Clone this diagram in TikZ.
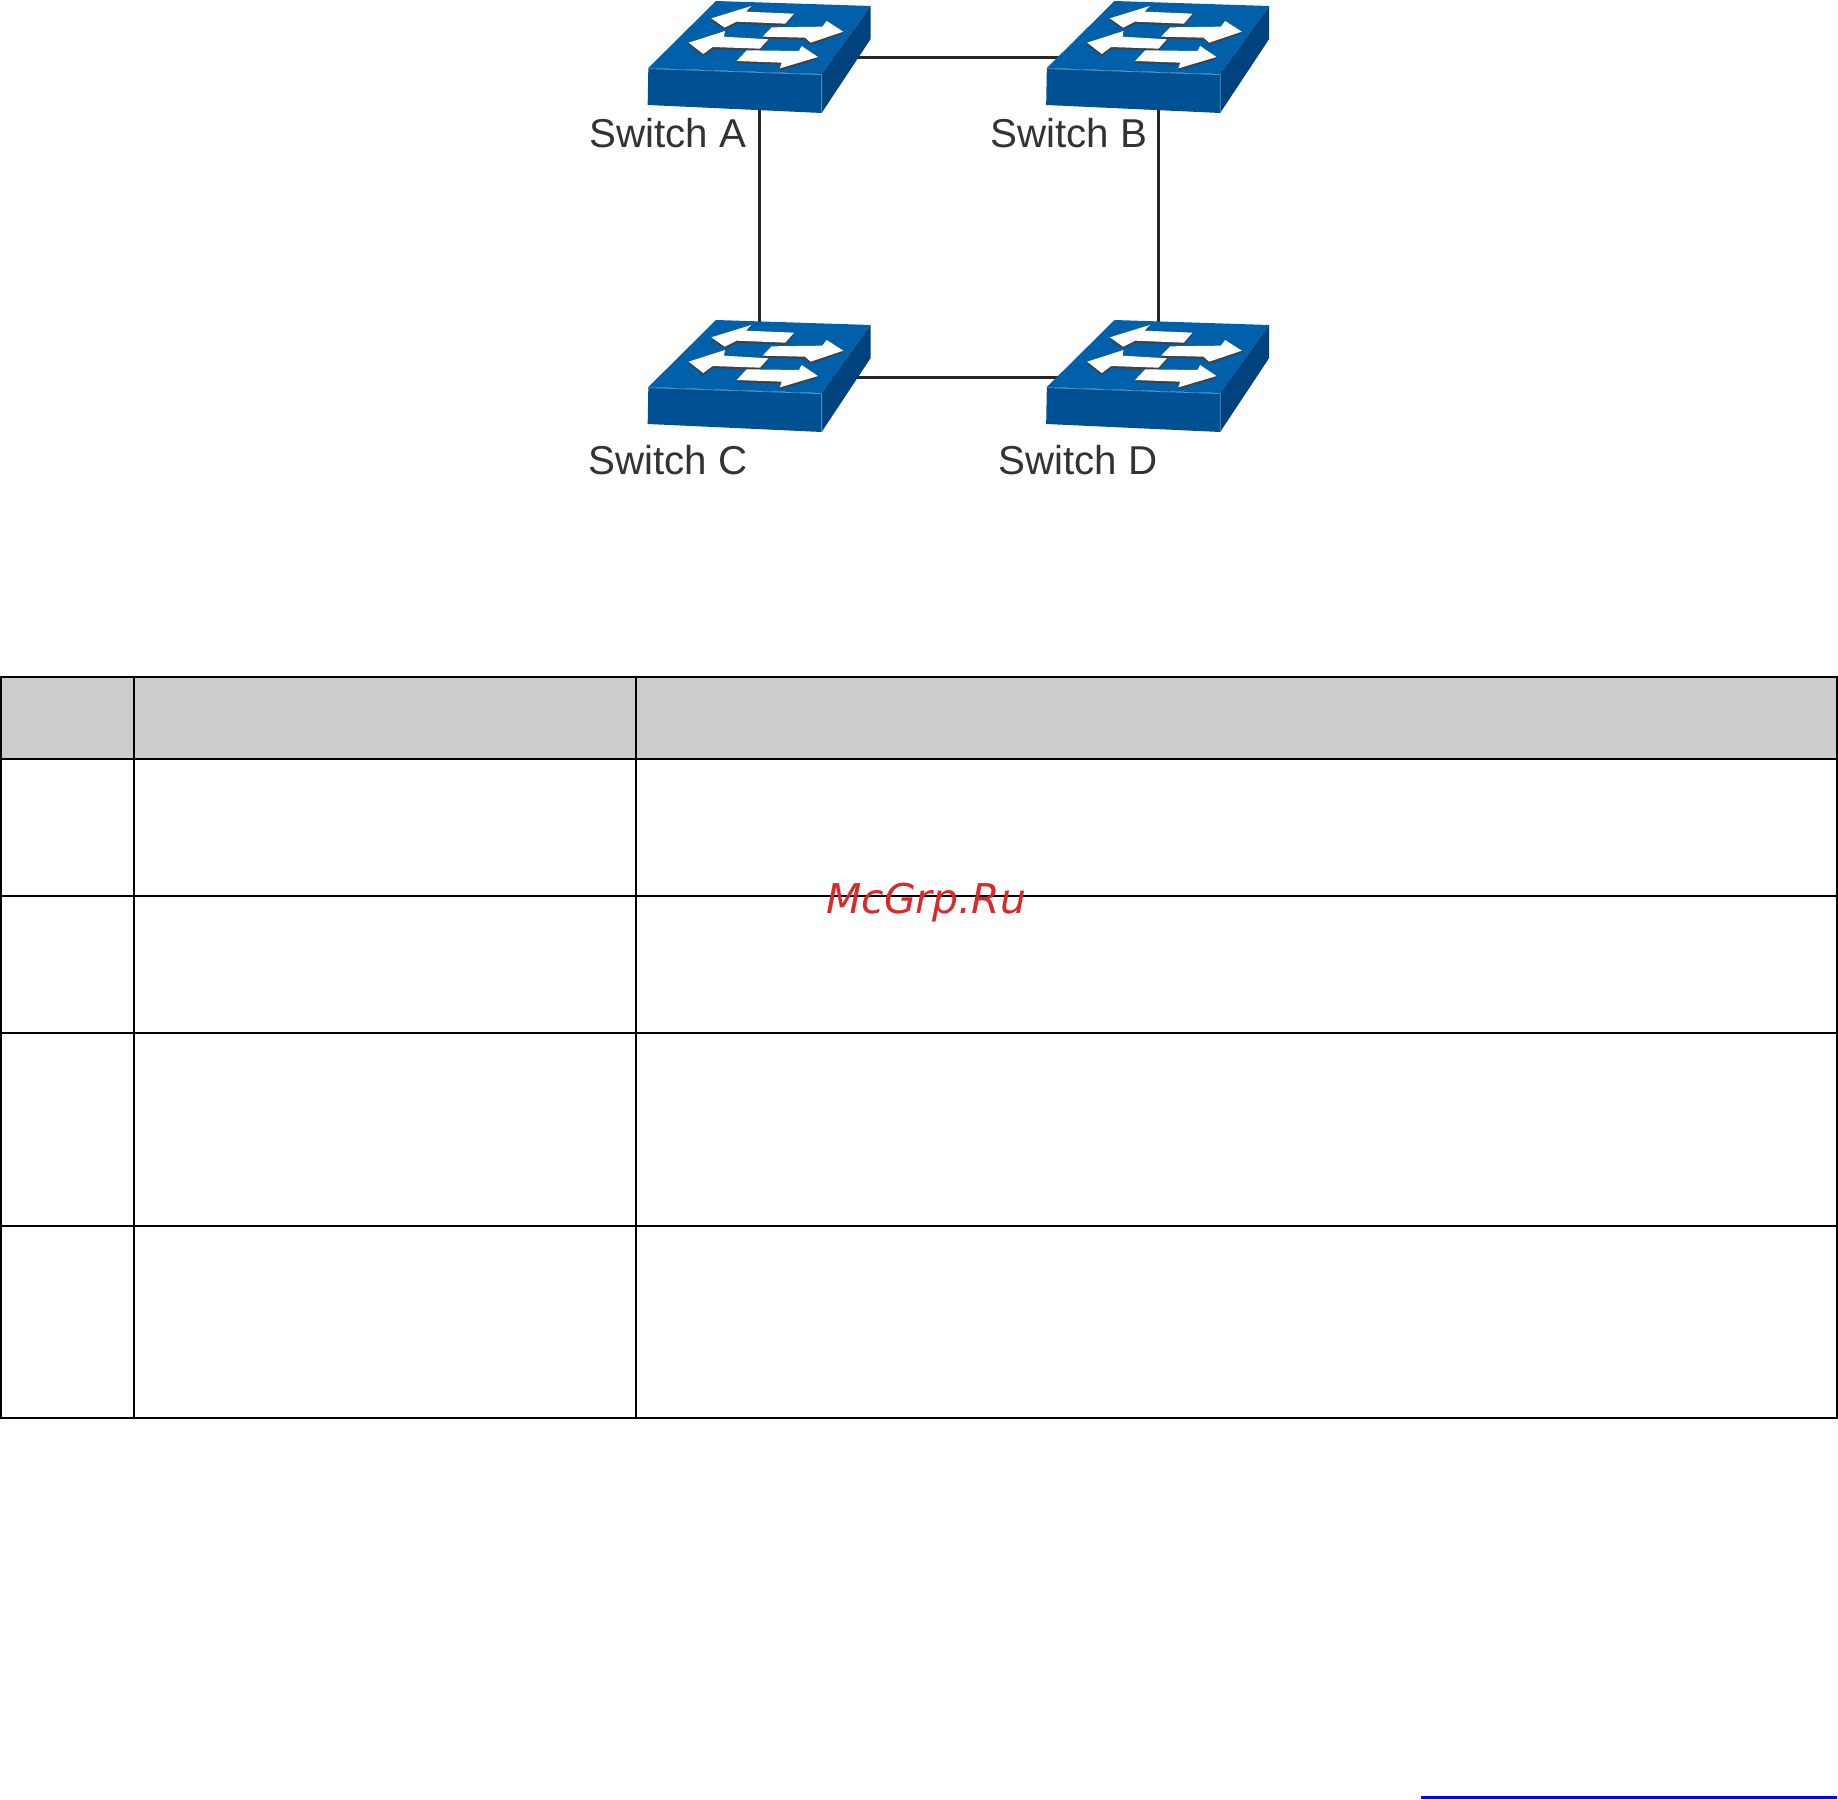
\documentclass[tikz,border=0pt]{standalone}
\usepackage{fontspec}
\setmainfont{Liberation Sans}
\newfontfamily\markFont{DejaVu Sans}
\definecolor{topFace}{RGB}{0,96,170}
\definecolor{frontFace}{RGB}{0,80,148}
\definecolor{sideFace}{RGB}{0,66,126}
\definecolor{labelColor}{RGB}{51,51,51}
\definecolor{headerColor}{RGB}{204,204,204}
\definecolor{markColor}{RGB}{220,40,40}
\tikzstyle{picturePixels} = [x = 1pt, y = -1pt]
\tikzstyle{linkLine} = [color=black!85, line width=3pt]
\tikzstyle{switchPoint} = [inner sep=0pt, minimum size=0pt]
\tikzstyle{switchLabel} = [color=labelColor, font=\fontsize{40.3}{40}\selectfont, anchor=base west, inner sep=0pt]
\tikzstyle{rowLine} = [color=black, line width=2.2pt]
\tikzstyle{columnLine} = [color=black, line width=2pt]
\tikzstyle{arrowShape} = [fill=white]
\tikzstyle{arrowShadow} = [fill=black!75]
\newcommand{\arrowPair}[1]{\fill [arrowShadow] [shift={(0,6)}] #1; \fill [arrowShape] #1;}
\newcommand{\switchIcon}[2]{
  \begin{scope}[shift={(#1,#2)}, scale=.3333]
    \fill [topFace] (205,204) -- (408,3) -- (872,18) -- (725,222) -- cycle;
    \fill [frontFace] (205,204) -- (725,222) -- (725,339) -- (203,315) -- cycle;
    \fill [sideFace] (725,222) -- (872,18) -- (872,117) -- (725,339) -- cycle;
    \draw [topFace!65!white, line width=.7pt] (207,206) -- (725,224) -- (725,335);
    \arrowPair{(394,55) -- (514,18) -- (498,35) -- (642,41) -- (616,71) -- (470,65) -- (434,83) -- cycle}
    \arrowPair{(790,95) -- (740,63) -- (727,80) -- (575,82) -- (548,110) -- (675,113) -- (692,128) -- cycle}
    \arrowPair{(326,128) -- (435,93) -- (432,110) -- (565,118) -- (540,146) -- (398,141) -- (370,162) -- cycle}
    \arrowPair{(714,171) -- (665,138) -- (657,153) -- (500,151) -- (470,183) -- (605,188) -- (600,205) -- cycle}
  \end{scope}
}
\begin{document}
\begin{tikzpicture}[picturePixels]
  \useasboundingbox (0,0) rectangle (1838,1799);

  \node [switchPoint] (switchA) at (759.5,57.5) {};
  \node [switchPoint] (switchB) at (1158.5,57.5) {};
  \node [switchPoint] (switchC) at (759.5,377) {};
  \node [switchPoint] (switchD) at (1158.5,377) {};
  \draw [linkLine] (switchA) -- (switchB);
  \draw [linkLine] (switchA) -- (switchC);
  \draw [linkLine] (switchB) -- (switchD);
  \draw [linkLine] (switchC) -- (switchD);

  \switchIcon{580}{0}
  \switchIcon{978.5}{0}
  \switchIcon{580}{319}
  \switchIcon{978.5}{319}

  \node [switchLabel] (labelA) at (589,147) {Switch A};
  \node [switchLabel] (labelB) at (990,147) {Switch B};
  \node [switchLabel] (labelC) at (588,474) {Switch C};
  \node [switchLabel] (labelD) at (998.5,474) {Switch D};

  % table
  \fill [headerColor] (1,677) rectangle (1837,759);
  \foreach \rowY in {677,759,896,1033,1226,1418} {
    \draw [rowLine] (0,\rowY) -- (1838,\rowY);
  }
  \draw [columnLine] (1,677) -- (1,1419);
  \draw [columnLine, line width=1.5pt] (134,677) -- (134,1419);
  \draw [columnLine] (636,677) -- (636,1419);
  \draw [columnLine] (1837,677) -- (1837,1419);

  \node [color=markColor, anchor=base west, inner sep=0pt, font=\markFont\itshape\fontsize{41}{41}\selectfont] (siteMark) at (826,913) {McGrp.Ru};

  \fill [color=blue] (1421,1796) rectangle (1837,1799);
\end{tikzpicture}
\end{document}
